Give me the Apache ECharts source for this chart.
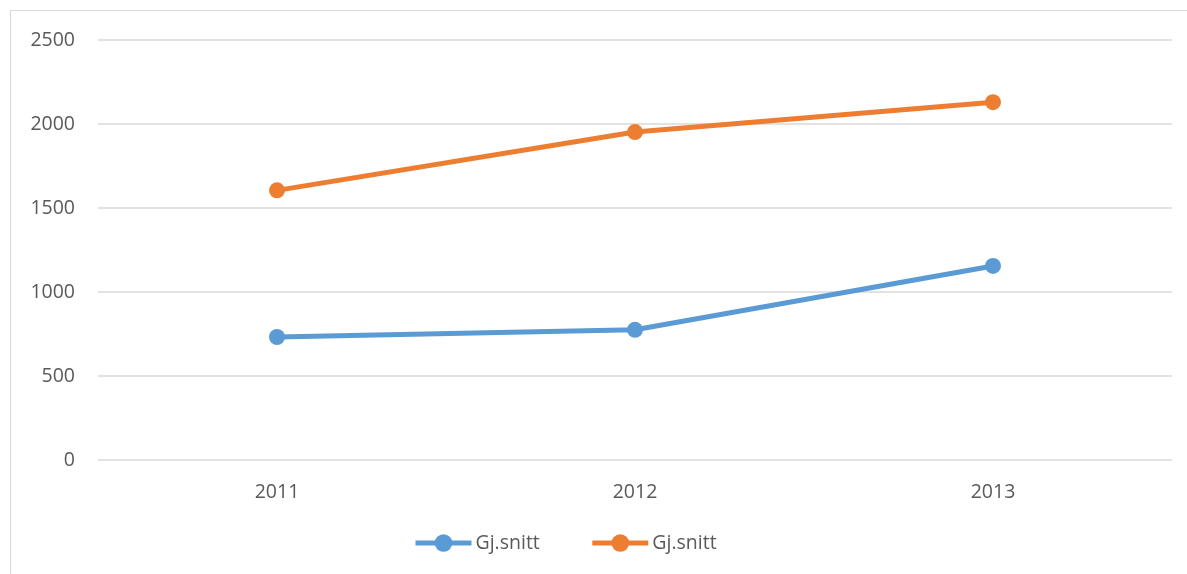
<!DOCTYPE html>
<html>
<head>
<meta charset="utf-8">
<script src="https://cdn.jsdelivr.net/npm/echarts@6/dist/echarts.min.js"></script>
<style>
html,body{margin:0;padding:0;background:#fff;overflow:hidden;}
#frame{position:absolute;left:10px;top:10px;width:1300px;height:700px;border:1px solid #d9d9d9;box-sizing:border-box;}
#chart{position:absolute;left:0;top:0;width:1187px;height:574px;}
</style>
</head>
<body>
<div id="frame"></div>
<div id="chart"></div>
<script>
const categories = ['2011', '2012', '2013'];
const seriesNames = ['Gj.snitt', 'Gj.snitt'];
const blueValues = [732, 775, 1155];
const orangeValues = [1605, 1952, 2130];
const yTicks = [0, 500, 1000, 1500, 2000, 2500];

const chart = echarts.init(document.getElementById('chart'));
const font = '"Open Sans", Lato, sans-serif';
chart.setOption({
  animation: false,
  backgroundColor: 'transparent',
  grid: {left: 98, right: 15, top: 40, bottom: 114, containLabel: false},
  legend: {
    data: [{name: 'a'}, {name: 'b'}],
    formatter: function(n){ return n === 'a' ? seriesNames[0] : seriesNames[1]; },
    top: 533,
    left: 413,
    padding: 0,
    itemWidth: 56,
    itemHeight: 22,
    itemGap: 50,
    lineStyle: {width: 5},
    textStyle: {color: '#595959', fontSize: 19.5, fontFamily: font, padding: [0, 0, 0, -1]}
  },
  xAxis: {
    type: 'category',
    data: categories,
    boundaryGap: true,
    axisLine: {show: false},
    axisTick: {show: false},
    axisLabel: {color: '#595959', fontSize: 19.5, fontFamily: font, margin: 22}
  },
  yAxis: {
    type: 'value',
    min: yTicks[0],
    max: yTicks[yTicks.length - 1],
    interval: 500,
    axisLine: {show: false},
    axisTick: {show: false},
    axisLabel: {color: '#595959', fontSize: 19.5, fontFamily: font, margin: 23,
      formatter: function(v){ return String(v); }},
    splitLine: {lineStyle: {color: '#d9d9d9', width: 1.5}}
  },
  series: [
    {
      name: 'a', type: 'line', data: blueValues,
      symbol: 'circle', symbolSize: 16,
      lineStyle: {color: '#5B9BD5', width: 5},
      itemStyle: {color: '#5B9BD5'}
    },
    {
      name: 'b', type: 'line', data: orangeValues,
      symbol: 'circle', symbolSize: 16,
      lineStyle: {color: '#ED7D31', width: 5},
      itemStyle: {color: '#ED7D31'}
    }
  ]
});
</script>
</body>
</html>
